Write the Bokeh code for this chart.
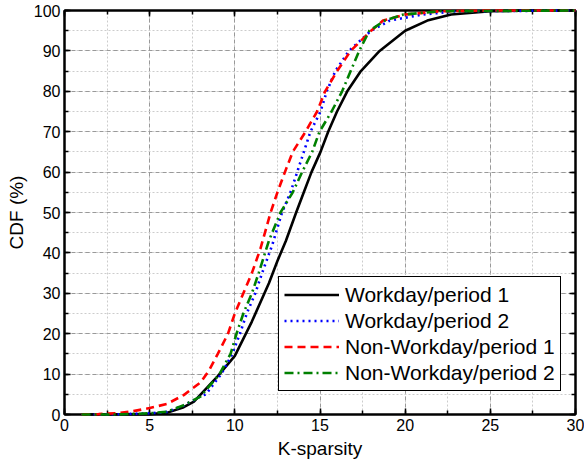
from bokeh.plotting import figure
from bokeh.models import (Legend, LegendItem, LinearAxis, SingleIntervalTicker, Range1d,
                          CustomLabelingPolicy)
from bokeh.embed import file_html
from bokeh.resources import INLINE

# ---- data ----
wp1_x = [1, 5, 6, 7, 7.6, 8, 9, 10, 11, 12, 12.5, 13, 13.6, 14.05, 14.5, 15.03, 15.48, 16.0,
         16.6, 17.4, 18.5, 20, 21.3, 22.7, 25, 27, 30]
wp1_y = [0, 0.1, 0.4, 1.8, 3.2, 5, 9.5, 14.5, 23, 32.5, 38, 43, 50, 55, 60, 65, 70, 75,
         80, 85, 90, 95, 97.5, 99, 99.8, 100, 100]

wp2_x = [1, 3, 5, 6, 7, 8, 8.3, 9.2, 9.85, 10.3, 10.7, 11.2, 11.6, 12.2, 12.77, 13.27, 13.66,
         14.05, 14.44, 15.03, 15.4, 15.9, 16.7, 18, 19.1, 21, 23, 30]
wp2_y = [0, 0.05, 0.3, 0.6, 2.2, 4.5, 5, 10, 15, 20, 25, 30, 35, 42, 50, 55, 60,
         65, 70, 75, 80, 85, 90, 95, 97.5, 99, 99.8, 100]

nw1_x = [1, 2, 3, 4, 5, 6, 7, 8, 8.5, 9, 9.6, 10, 10.5, 11, 11.5, 12.1, 12.5, 12.94, 13.4,
         14.15, 14.83, 15.3, 16, 16.8, 18, 18.7, 20, 22, 25, 30]
nw1_y = [0, 0.1, 0.3, 0.8, 1.6, 2.6, 4.8, 8, 11, 15, 20, 25, 30, 35, 41, 50, 55, 60, 65,
         70, 75, 80, 85, 90, 95, 97.5, 99, 99.8, 100, 100]

nw2_x = [1, 3, 5, 6, 7, 8, 8.2, 9.1, 9.75, 10.1, 10.5, 11.0, 11.4, 12.0, 12.68, 13.4, 13.95,
         14.54, 14.97, 15.68, 16.3, 16.8, 17.3, 17.9, 18.8, 19.9, 22, 30]
nw2_y = [0, 0, 0.3, 0.7, 2.3, 4.5, 5.5, 10, 15, 20, 25, 30, 35, 43, 50, 55, 60,
         65, 70, 75, 80, 85, 90, 95, 97.5, 99, 99.8, 100]

labels = ["Workday/period 1", "Workday/period 2", "Non-Workday/period 1", "Non-Workday/period 2"]
x_label = "K-sparsity"
y_label = "CDF (%)"

FONT = "Liberation Sans"

p = figure(width=584, height=463, x_range=Range1d(0, 30), y_range=Range1d(0, 100),
           output_backend="svg", toolbar_location=None,
           min_border_left=64, min_border_right=9, min_border_top=10, min_border_bottom=49)
p.background_fill_color = "white"
p.border_fill_color = "white"
p.outline_line_color = "black"
p.outline_line_width = 2

xt = SingleIntervalTicker(interval=5, num_minor_ticks=2)
yt = SingleIntervalTicker(interval=10, num_minor_ticks=2)
p.xaxis.ticker = xt
p.yaxis.ticker = yt
p.xgrid.ticker = xt
p.ygrid.ticker = yt

for g in (p.xgrid, p.ygrid):
    g.grid_line_color = "#999999"
    g.grid_line_dash = "4 3"
    g.grid_line_width = 1
    g.minor_grid_line_color = "#cccccc"
    g.minor_grid_line_dash = "2 2"
    g.minor_grid_line_width = 1

for ax in (p.xaxis[0], p.yaxis[0]):
    ax.axis_line_width = 2
    ax.axis_line_color = "black"
    ax.major_tick_in = 6
    ax.major_tick_out = 0
    ax.minor_tick_in = 4
    ax.minor_tick_out = 0
    ax.major_tick_line_width = 1.5
    ax.minor_tick_line_width = 1.5
    ax.major_label_text_font = FONT
    ax.major_label_text_font_size = "16px"
    ax.major_label_text_color = "black"
    ax.axis_label_text_font = FONT
    ax.axis_label_text_font_size = "19px"
    ax.axis_label_text_font_style = "normal"
    ax.axis_label_text_color = "black"
    ax.major_label_standoff = 4
    ax.axis_label_standoff = 4

p.xaxis.axis_label = x_label
p.yaxis.axis_label = y_label

# frame ticks on top and right, without any labels
no_labels = CustomLabelingPolicy(code="return new Set()")
for loc, tk in (("above", xt), ("right", yt)):
    a = LinearAxis(ticker=tk, major_label_policy=no_labels, major_label_standoff=0,
                   major_label_text_font_size="0px",
                   axis_line_width=2, major_tick_in=6, major_tick_out=0,
                   minor_tick_in=4, minor_tick_out=0,
                   major_tick_line_width=1.5, minor_tick_line_width=1.5)
    p.add_layout(a, loc)

r1 = p.line(wp1_x, wp1_y, line_color="black", line_width=2.6, level="overlay")
r2 = p.line(wp2_x, wp2_y, line_color="#0000ff", line_width=2.6, line_dash="2 4", level="overlay")
r3 = p.line(nw1_x, nw1_y, line_color="#ff0000", line_width=2.6, line_dash="8 5", level="overlay")
r4 = p.line(nw2_x, nw2_y, line_color="#008000", line_width=2.6, line_dash="9 4 2 4", level="overlay")

legend = Legend(items=[LegendItem(label=labels[0], renderers=[r1]),
                       LegendItem(label=labels[1], renderers=[r2]),
                       LegendItem(label=labels[2], renderers=[r3]),
                       LegendItem(label=labels[3], renderers=[r4])],
                location=(214, 23))
legend.border_line_color = "black"
legend.border_line_width = 1.5
legend.border_line_alpha = 1
legend.background_fill_color = "white"
legend.background_fill_alpha = 1
legend.label_text_font = FONT
legend.label_text_font_size = "21px"
legend.label_text_color = "black"
legend.glyph_width = 55
legend.glyph_height = 25
legend.label_height = 25
legend.label_standoff = 6
legend.spacing = 1
legend.padding = 5
legend.margin = 0
p.add_layout(legend)

open("out.html", "w").write(file_html(p, INLINE))
